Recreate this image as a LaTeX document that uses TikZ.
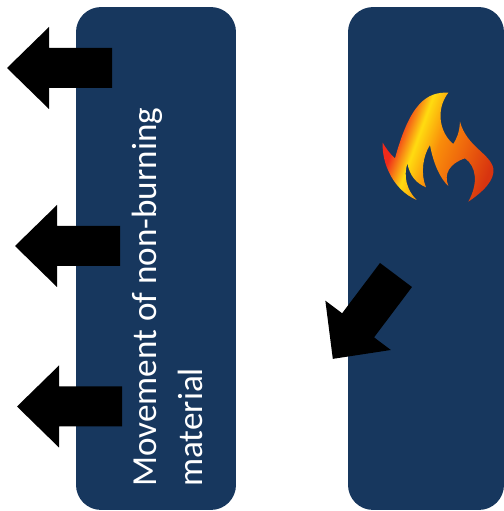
\documentclass[tikz,border=0pt]{standalone}
\usepackage{xcolor}
\usepackage{fontspec}
\setmainfont{Carlito}
\usepackage{tikz}
\usetikzlibrary{arrows.meta,positioning}
\definecolor{panelblue}{HTML}{17375E}
\definecolor{flamered}{HTML}{F02A1A}
\definecolor{flameyellow}{HTML}{FFDC10}
\definecolor{flameorange}{HTML}{F98C0A}
\definecolor{flamedeep}{HTML}{EE660C}
\definecolor{flameend}{HTML}{D8340F}
\pgfdeclarehorizontalshading{flamegrad}{100bp}{
  color(0bp)=(flamered); color(31bp)=(flamered); color(40bp)=(flameyellow);
  color(50bp)=(flameorange); color(61bp)=(flamedeep);
  color(75bp)=(flameend); color(100bp)=(flameend)}

\begin{document}
\begin{tikzpicture}[
  x=0.02cm, y=0.02cm,
  panel/.style={
    rectangle, rounded corners=0.5cm, fill=panelblue, draw=none,
    minimum height=10.06cm, inner sep=0pt
  },
  panellabel/.style={
    rotate=90, anchor=north west, align=left, inner sep=0pt,
    text=white, font=\fontsize{20}{25.8}\selectfont
  },
  pusharrow/.pic={
    \fill[black] (0,20) -- (-63,20) -- (-63,41) -- (-105,0)
      -- (-63,-41) -- (-63,-20) -- (0,-20) -- cycle;
  }
]
\useasboundingbox (0,0) rectangle (504,511);

% ---------- Panels ----------
\node[panel, minimum width=3.2cm] (Lpanel) at (156,252.5) {};
\node[panel, minimum width=3.12cm] (Rpanel) at (426,252.5) {};

% ---------- Label ----------
\node[panellabel] (Llabel) at (132,24) {Movement of non-burning\\material};

% ---------- Arrows ----------
\pic at (112,443) {pusharrow};
\pic at (120,265) {pusharrow};
\pic at (122,104.5) {pusharrow};
\pic[rotate=53] at (396,236) {pusharrow};

% ---------- Flame ----------
\begin{scope}[shift={(360,431)}, x=0.00667cm, y=-0.00667cm]
  \path[shading=flamegrad, shading angle=-20]
    (265,38) .. controls (200,35) and (150,70) .. (105,235)
    .. controls (90,222) and (78,205) .. (68,188)
    .. controls (65,250) and (100,330) .. (170,360)
    .. controls (140,330) and (130,290) .. (142,250)
    .. controls (150,290) and (170,310) .. (198,322)
    .. controls (180,280) and (190,225) .. (210,195)
    .. controls (220,250) and (240,295) .. (265,318)
    .. controls (250,280) and (270,250) .. (315,235)
    .. controls (350,260) and (355,310) .. (325,365)
    .. controls (370,335) and (405,300) .. (400,265)
    .. controls (390,220) and (320,200) .. (300,125)
    .. controls (298,160) and (290,175) .. (280,192)
    .. controls (240,160) and (225,90) .. (265,38) -- cycle;
\end{scope}

\end{tikzpicture}
\end{document}
